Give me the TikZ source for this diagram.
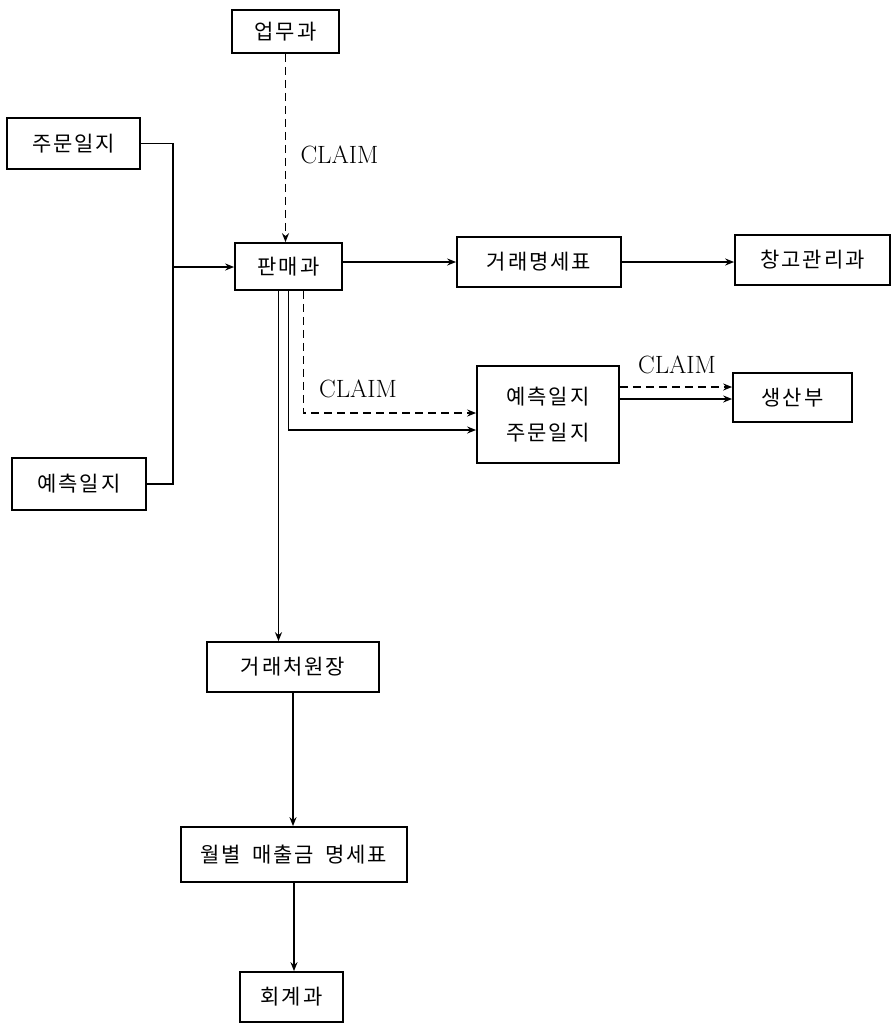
\documentclass[tikz,border=0pt]{standalone}
\usepackage{fontspec}
\newfontfamily\kor[LetterSpace=9,WordSpace=1.7]{Noto Sans CJK KR}
\usepackage{tikz}
\usetikzlibrary{arrows.meta}

\tikzset{
  box/.style={draw, line width=1.7pt, inner sep=0pt, align=center,
    font=\kor\fontsize{21}{36}\selectfont},
  claim/.style={font=\fontsize{25}{27}\selectfont},
  flow/.style={->, line width=1.7pt},
  cflow/.style={->, line width=1.7pt, dash pattern=on 8pt off 5pt},
}

\begin{document}
\begin{tikzpicture}[x=1pt, y=-1pt, >={Stealth[length=9pt,width=7pt]}]

    \useasboundingbox (0,0) rectangle (892,1028);

    % boxes
    \node[box, minimum width=107pt, minimum height=43pt] (upmu) at (285.5,31.5) {업무과};
    \node[box, minimum width=133pt, minimum height=51pt] (jumun) at (73.5,143.5) {주문일지};
    \node[box, minimum width=134pt, minimum height=52pt] (yecheuk) at (79,484) {예측일지};
    \node[box, minimum width=107pt, minimum height=47pt] (panmae) at (288.5,266.5) {판매과};
    \node[box, minimum width=164pt, minimum height=50pt] (georae) at (539,262) {거래명세표};
    \node[box, minimum width=155pt, minimum height=50pt] (changgo) at (812.5,260) {창고관리과};
    \node[box, minimum width=142pt, minimum height=97pt] (yejumun) at (548,414.5) {예측일지\\주문일지};
    \node[box, minimum width=119pt, minimum height=49pt] (saengsan) at (792.5,397.5) {생산부};
    \node[box, minimum width=172pt, minimum height=50pt] (wonjang) at (293,667) {거래처원장};
    \node[box, minimum width=226pt, minimum height=55pt] (wolbyeol) at (294,854.5) {월별 매출금 명세표};
    \node[box, minimum width=103pt, minimum height=50pt] (hoegye) at (291.5,997) {회계과};

    % CLAIM labels
    \node[claim, anchor=west] (claimA) at (297,155) {CLAIM};
    \node[claim] (claimB) at (358,389) {CLAIM};
    \node[claim] (claimC) at (677,365) {CLAIM};

    % upmu -> panmae
    \draw[cflow] (upmu.south) -- (upmu.south |- panmae.north);

    % order and forecast logs -> panmae
    \coordinate (join) at (173,267);
    \draw[line width=1.7pt] (jumun.east) -| (join) |- (yecheuk.east);
    \draw[flow] (join) -- (join -| panmae.west);

    % panmae -> georae -> changgo
    \draw[flow] (panmae.east |- georae.west) -- (georae.west);
    \draw[flow] (georae.east) -- (georae.east -| changgo.west);

    % panmae -> yejumun
    \draw[flow] (panmae.south) |- ([yshift=-15.5pt]yejumun.west);
    \draw[cflow] ([xshift=15pt]panmae.south) |- ([yshift=1.5pt]yejumun.west);

    % yejumun -> saengsan
    \draw[cflow] ([yshift=27.5pt]yejumun.east) -- ([yshift=27.5pt]yejumun.east -| saengsan.west);
    \draw[flow] ([yshift=15.5pt]yejumun.east) -- ([yshift=15.5pt]yejumun.east -| saengsan.west);

    % down the chain
    \draw[flow] ([xshift=-10pt]panmae.south) -- ([xshift=-10pt]panmae.south |- wonjang.north);
    \draw[flow] (wonjang.south) -- (wonjang.south |- wolbyeol.north);
    \draw[flow] (wolbyeol.south) -- (wolbyeol.south |- hoegye.north);

\end{tikzpicture}
\end{document}
